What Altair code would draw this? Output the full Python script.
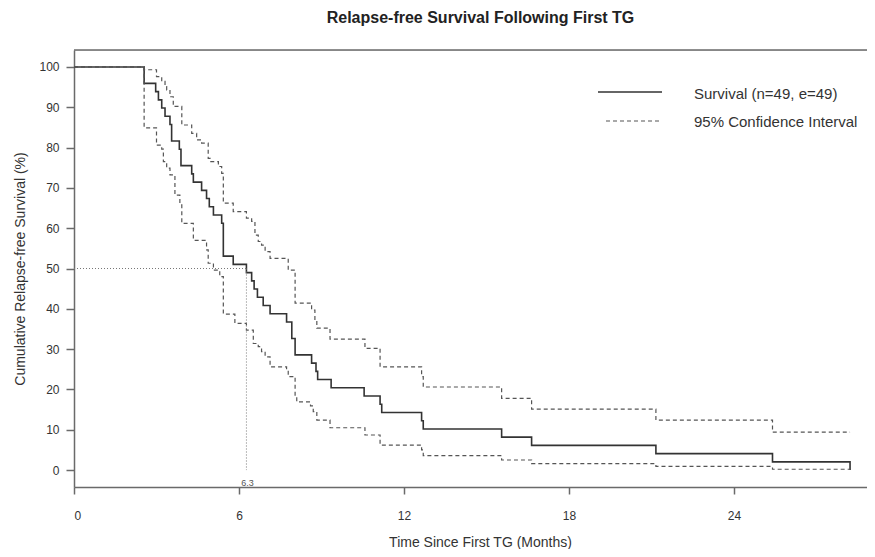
import altair as alt
import pandas as pd

# ---- data ----
surv_t = [0, 2.55, 2.97, 3.07, 3.19, 3.31, 3.49, 3.55, 3.83, 3.89, 4.28, 4.34, 4.64, 4.82, 4.92,
          5.07, 5.37, 5.43, 5.79, 6.27, 6.46, 6.55, 6.67, 6.88, 7.13, 7.73, 7.92, 8.04, 8.64, 8.80,
          8.86, 9.35, 10.55, 11.13, 11.19, 12.64, 12.70, 15.55, 16.64, 21.16, 25.40, 28.22]
surv_v = [100, 95.92, 93.88, 91.84, 89.80, 87.76, 85.71, 81.63, 79.59, 75.51, 73.47, 71.43, 69.39,
          67.35, 65.31, 63.27, 61.22, 53.06, 51.02, 48.98, 46.94, 44.90, 42.86, 40.82, 38.78, 36.73,
          32.65, 28.57, 26.53, 24.49, 22.45, 20.41, 18.37, 16.33, 14.29, 12.24, 10.20, 8.16, 6.12,
          4.08, 2.04, 0]

upper_t = [0, 2.55, 3.00, 3.19, 3.31, 3.37, 3.49, 3.61, 3.92, 4.28, 4.46, 4.64, 4.88, 4.95, 5.25,
           5.37, 5.43, 5.79, 6.27, 6.46, 6.58, 6.70, 6.82, 6.95, 7.13, 7.79, 8.04, 8.64, 8.76, 8.83,
           9.31, 10.58, 11.13, 12.64, 12.70, 15.55, 16.64, 21.16, 25.40, 28.22]
upper_v = [100, 99.3, 97.6, 96.4, 95.1, 94.3, 92.6, 90.2, 85.6, 83.5, 81.9, 81.1, 77.3, 76.5, 75.3,
           73.6, 66.2, 64.1, 62.5, 61.7, 58.3, 56.7, 55.8, 54.2, 52.5, 49.6, 41.4, 39.7, 36.8, 35.2,
           32.5, 30.2, 25.6, 23.2, 20.6, 17.8, 15.1, 12.4, 9.4, 9.4]

lower_t = [0, 2.55, 3.00, 3.19, 3.25, 3.37, 3.49, 3.67, 3.85, 3.92, 4.34, 4.82, 4.88, 5.07, 5.30,
           5.43, 5.85, 6.27, 6.52, 6.70, 6.82, 6.95, 7.13, 7.73, 7.79, 8.04, 8.10, 8.60, 8.70, 8.83,
           9.31, 10.58, 11.13, 12.64, 12.70, 15.55, 16.64, 21.16, 25.40, 28.22]
lower_v = [100, 84.9, 80.6, 79.6, 76.5, 74.9, 73.2, 68.2, 65.8, 61.2, 57.0, 54.6, 51.3, 49.6, 48.0,
           38.7, 36.4, 34.7, 31.4, 30.6, 29.4, 28.1, 25.6, 24.8, 23.2, 18.2, 16.9, 15.9, 14.5, 12.4,
           10.5, 8.7, 6.2, 5.0, 3.6, 2.5, 1.6, 0.9, 0.2, 0.2]

median_t = 6.27
median_label = "6.3"
x_ticks = [0, 6, 12, 18, 24]
y_ticks = [0, 10, 20, 30, 40, 50, 60, 70, 80, 90, 100]
legend_labels = ["Survival (n=49, e=49)", "95% Confidence Interval"]

title_text = "Relapse-free Survival Following First TG"
x_title = "Time Since First TG (Months)"
y_title = "Cumulative Relapse-free Survival (%)"

# ---- layout ----
W, H = 793, 437
PX_PER_MONTH = 27.5
XMAX = W / PX_PER_MONTH
FONT = "Liberation Sans, Arial, sans-serif"
AXC = "#6a6a6a"

xs = alt.Scale(domain=[0, XMAX], nice=False, zero=False)
ys = alt.Scale(domain=[-4.2, 104.2], nice=False, zero=False)

x_axis = alt.Axis(values=x_ticks, title=x_title, grid=False, tickSize=7, labelPadding=16,
                  domainColor=AXC, tickColor=AXC, domainWidth=1.5, tickWidth=1.5,
                  labelFontSize=12, labelColor="#333", labelFont=FONT,
                  titleFont=FONT, titleFontSize=14, titleFontWeight="normal", titleColor="#333",
                  titleX=406, titleY=59, titleBaseline="alphabetic", titleAnchor="middle")
y_axis = alt.Axis(values=y_ticks, title=y_title, grid=False, tickSize=8, labelPadding=7,
                  domainColor=AXC, tickColor=AXC, domainWidth=1.5, tickWidth=1.5,
                  labelFontSize=12, labelColor="#333", labelFont=FONT,
                  titleFont=FONT, titleFontSize=14, titleFontWeight="normal", titleColor="#333",
                  titleX=-54, titleBaseline="middle")


def X(field):
    return alt.X(field, type="quantitative", scale=xs, axis=x_axis)


def Y(field):
    return alt.Y(field, type="quantitative", scale=ys, axis=y_axis)


surv_df = pd.DataFrame({"t": surv_t, "v": surv_v})
up_df = pd.DataFrame({"t": upper_t, "v": upper_v})
lo_df = pd.DataFrame({"t": lower_t, "v": lower_v})

upper = alt.Chart(up_df).mark_line(interpolate="step-after", color="#555", strokeWidth=1.2,
                                   strokeDash=[4, 3]).encode(x=X("t"), y=Y("v"))
lower = alt.Chart(lo_df).mark_line(interpolate="step-after", color="#555", strokeWidth=1.2,
                                   strokeDash=[4, 3]).encode(x=X("t"), y=Y("v"))
surv = alt.Chart(surv_df).mark_line(interpolate="step-after", color="#333",
                                    strokeWidth=1.6).encode(x=X("t"), y=Y("v"))

med_df = pd.DataFrame({"t": [0, median_t], "t1": [median_t, median_t],
                       "v": [50, 50], "v1": [50, 0]})
med_lines = alt.Chart(med_df).mark_rule(color="#777", strokeWidth=1, strokeDash=[1, 2]).encode(
    x=X("t"), x2="t1:Q", y=Y("v"), y2="v1:Q")
med_txt = alt.Chart(pd.DataFrame({"t": [median_t], "lab": [median_label]})).mark_text(
    font=FONT, fontSize=9, color="#555", baseline="middle", dx=1).encode(
    x=X("t"), y=alt.value(433), text="lab:N")

one = pd.DataFrame({"a": [0]})
top_frame = alt.Chart(one).mark_rule(color=AXC, strokeWidth=1.5).encode(
    x=alt.value(0), x2=alt.value(W), y=alt.value(0))

leg_solid = alt.Chart(one).mark_rule(color="#333", strokeWidth=1.4).encode(
    x=alt.value(524), x2=alt.value(588), y=alt.value(42))
leg_dash = alt.Chart(one).mark_rule(color="#555", strokeWidth=1.2, strokeDash=[4, 3]).encode(
    x=alt.value(532), x2=alt.value(588), y=alt.value(71))
leg_txt1 = alt.Chart(pd.DataFrame({"lab": [legend_labels[0]]})).mark_text(
    font=FONT, fontSize=15, color="#333", align="left", baseline="middle").encode(
    x=alt.value(620), y=alt.value(44), text="lab:N")
leg_txt2 = alt.Chart(pd.DataFrame({"lab": [legend_labels[1]]})).mark_text(
    font=FONT, fontSize=15, color="#333", align="left", baseline="middle").encode(
    x=alt.value(620), y=alt.value(72), text="lab:N")

chart = alt.layer(surv, upper, lower, med_lines, med_txt, top_frame,
                  leg_solid, leg_dash, leg_txt1, leg_txt2).properties(
    width=W, height=H,
    autosize=alt.AutoSizeParams(type="none"),
    padding={"left": 66, "top": 42, "right": 0, "bottom": 62},
    title=alt.TitleParams(title_text, font=FONT, fontSize=16, fontWeight="bold", color="#222",
                          anchor="middle", dx=10, offset=23),
).configure_view(stroke=None).configure(background="white")

chart.save("out.html", embed_options={"renderer": "svg", "actions": False})
